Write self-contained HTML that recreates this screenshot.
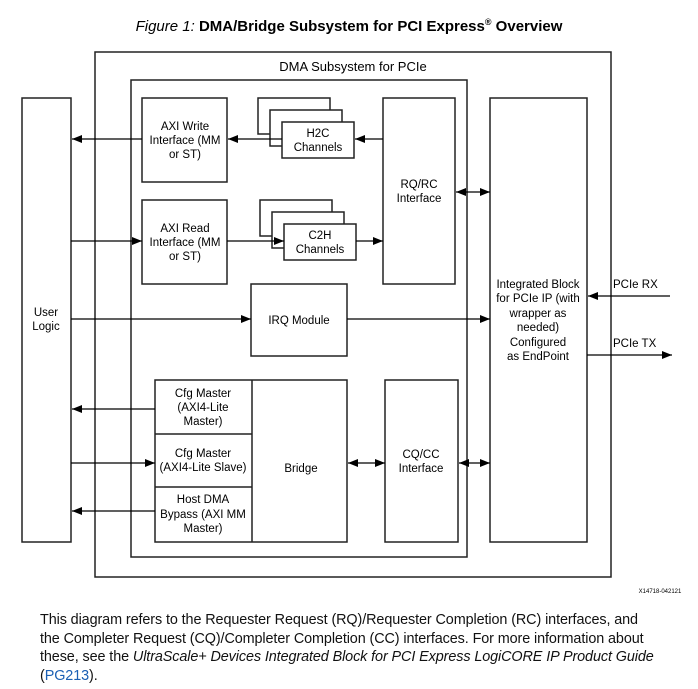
<!DOCTYPE html>
<html><head><meta charset="utf-8"><style>
body{margin:0;background:#fff;width:698px;height:689px;overflow:hidden;font-family:"Liberation Sans",sans-serif}
svg{position:absolute;left:0;top:0}
.p{position:absolute;left:40px;top:611px;width:658px;font-size:14.4px;line-height:18.5px;color:#111;white-space:nowrap;letter-spacing:-0.1px}
</style></head><body>
<svg width="698" height="689" viewBox="0 0 698 689">
<defs><marker id="a" markerWidth="10" markerHeight="8" refX="10" refY="4" orient="auto-start-reverse" markerUnits="userSpaceOnUse"><path d="M0,0 L10,4 L0,8 z" fill="#000"/></marker></defs>
<g font-family="Liberation Sans, sans-serif" fill="#000">
<text x="349" y="31" font-size="15" text-anchor="middle"><tspan font-style="italic">Figure 1:</tspan> <tspan font-weight="bold">DMA/Bridge Subsystem for PCI Express</tspan><tspan font-size="9" dy="-6" font-weight="bold">®</tspan><tspan dy="6" font-weight="bold"> Overview</tspan></text>
</g>
<g fill="#fff" stroke="#222" stroke-width="1.5">
<rect x="95" y="52" width="516" height="525"/>
<rect x="131" y="80" width="336" height="477"/>
<rect x="22" y="98" width="49" height="444"/>
<rect x="490" y="98" width="97" height="444"/>
<rect x="142" y="98" width="85" height="84"/>
<rect x="142" y="200" width="85" height="84"/>
<rect x="258" y="98" width="72" height="36"/>
<rect x="270" y="110" width="72" height="36"/>
<rect x="282" y="122" width="72" height="36"/>
<rect x="260" y="200" width="72" height="36"/>
<rect x="272" y="212" width="72" height="36"/>
<rect x="284" y="224" width="72" height="36"/>
<rect x="383" y="98" width="72" height="186"/>
<rect x="251" y="284" width="96" height="72"/>
<rect x="155" y="380" width="192" height="162"/>
<line x1="252" y1="380" x2="252" y2="542"/>
<line x1="155" y1="434" x2="252" y2="434"/>
<line x1="155" y1="487" x2="252" y2="487"/>
<rect x="385" y="380" width="73" height="162"/>
</g>
<g stroke="#000" stroke-width="1.3" fill="none">
<line x1="142" y1="139" x2="72" y2="139" marker-end="url(#a)"/>
<line x1="282" y1="139" x2="228" y2="139" marker-end="url(#a)"/>
<line x1="383" y1="139" x2="355" y2="139" marker-end="url(#a)"/>
<line x1="71" y1="241" x2="142" y2="241" marker-end="url(#a)"/>
<line x1="227" y1="241" x2="284" y2="241" marker-end="url(#a)"/>
<line x1="356" y1="241" x2="383" y2="241" marker-end="url(#a)"/>
<line x1="456" y1="192" x2="490" y2="192" marker-start="url(#a)" marker-end="url(#a)"/>
<line x1="71" y1="319" x2="251" y2="319" marker-end="url(#a)"/>
<line x1="347" y1="319" x2="490" y2="319" marker-end="url(#a)"/>
<line x1="670" y1="296" x2="588" y2="296" marker-end="url(#a)"/>
<line x1="587" y1="355" x2="672" y2="355" marker-end="url(#a)"/>
<line x1="155" y1="409" x2="72" y2="409" marker-end="url(#a)"/>
<line x1="71" y1="463" x2="155" y2="463" marker-end="url(#a)"/>
<line x1="155" y1="511" x2="72" y2="511" marker-end="url(#a)"/>
<line x1="348" y1="463" x2="385" y2="463" marker-start="url(#a)" marker-end="url(#a)"/>
<line x1="459" y1="463" x2="490" y2="463" marker-start="url(#a)" marker-end="url(#a)"/>
</g>
<g font-family="Liberation Sans, sans-serif" font-size="11.5" fill="#000" text-anchor="middle">
<text x="353" y="71" font-size="13">DMA Subsystem for PCIe</text>
<text x="46" y="316">User</text><text x="46" y="330">Logic</text>
<text x="185" y="130">AXI Write</text><text x="185" y="144">Interface (MM</text><text x="185" y="158">or ST)</text>
<text x="185" y="232">AXI Read</text><text x="185" y="246">Interface (MM</text><text x="185" y="260">or ST)</text>
<text x="318" y="137">H2C</text><text x="318" y="151">Channels</text>
<text x="320" y="239">C2H</text><text x="320" y="253">Channels</text>
<text x="419" y="188">RQ/RC</text><text x="419" y="202">Interface</text>
<text x="299" y="324">IRQ Module</text>
<text x="538" y="288">Integrated Block</text><text x="538" y="302">for PCIe IP (with</text><text x="538" y="317">wrapper as</text><text x="538" y="331">needed)</text><text x="538" y="346">Configured</text><text x="538" y="360">as EndPoint</text>
<text x="613" y="288" text-anchor="start">PCIe RX</text><text x="613" y="347" text-anchor="start">PCIe TX</text>
<text x="203" y="397">Cfg Master</text><text x="203" y="411">(AXI4-Lite</text><text x="203" y="425">Master)</text>
<text x="203" y="457">Cfg Master</text><text x="203" y="471">(AXI4-Lite Slave)</text>
<text x="203" y="503">Host DMA</text><text x="203" y="518">Bypass (AXI MM</text><text x="203" y="532">Master)</text>
<text x="301" y="472">Bridge</text>
<text x="421" y="458">CQ/CC</text><text x="421" y="472">Interface</text>
<text x="660" y="593" font-size="6">X14718-042121</text>
</g>
</svg>
<div class="p">This diagram refers to the Requester Request (RQ)/Requester Completion (RC) interfaces, and<br>the Completer Request (CQ)/Completer Completion (CC) interfaces. For more information about<br>these, see the <i>UltraScale+ Devices Integrated Block for PCI Express LogiCORE IP Product Guide</i><br>(<span style="color:#1a5fb4">PG213</span>).</div>
</body></html>
